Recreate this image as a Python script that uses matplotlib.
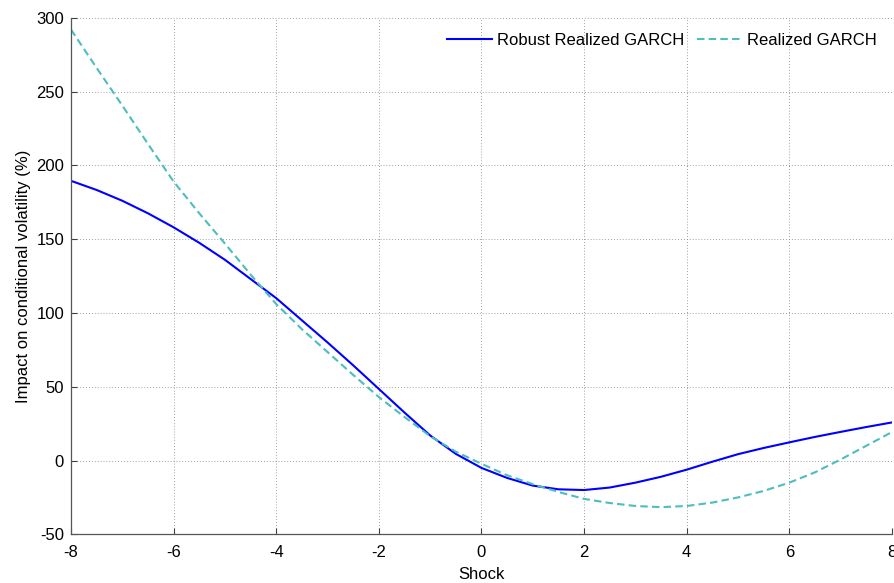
import matplotlib
matplotlib.use('Agg')
from matplotlib import pyplot as plt

plt.rcParams['font.family'] = ['Liberation Sans', 'DejaVu Sans']
plt.rcParams['axes.unicode_minus'] = False

shock = [-8, -7.5, -7, -6.5, -6, -5.5, -5, -4.5, -4, -3.5, -3, -2.5, -2, -1.5, -1, -0.5,
         0, 0.5, 1, 1.5, 2, 2.5, 3, 3.5, 4, 4.5, 5, 5.5, 6, 6.5, 7, 7.5, 8]
robust = [189.5, 183.3, 176, 167.5, 158, 147.5, 136, 123, 110, 95, 80, 64.5, 48.5, 32.5, 17, 4.5,
          -5, -11.8, -17, -19.5, -20, -18.3, -15, -11, -6.2, -0.8, 4.3, 8.5, 12.3, 16, 19.4, 22.7, 25.8]
realized = [292, 266, 240.5, 214.5, 189, 167.5, 147, 126, 106, 89, 73.5, 58, 43, 29.5, 16.5, 6,
            -2.2, -10, -16, -21.3, -26, -28.8, -30.8, -31.6, -30.8, -28.5, -25, -20.6, -15, -8, 0.7, 10, 19.3]

xticks = [-8, -6, -4, -2, 0, 2, 4, 6, 8]
yticks = [-50, 0, 50, 100, 150, 200, 250, 300]

fig = plt.figure(figsize=(8.95, 5.83), dpi=100)
ax = fig.add_axes([0.0793, 0.0835, 0.9173, 0.8861])

ax.plot(shock, robust, color='#0000ff', lw=1.5, label='Robust Realized GARCH')
ax.plot(shock, realized, color='#4dbdbd', lw=1.5, ls=(0, (3.6, 2.0)), label='Realized GARCH')

ax.set_xlim(-8, 8)
ax.set_ylim(-50, 300)
ax.set_xticks(xticks)
ax.set_yticks(yticks)
ax.tick_params(direction='in', length=4, width=0.8, colors='#404040', labelcolor='black',
               labelsize=12, pad=5)
ax.tick_params(axis='x', pad=8)
ax.grid(True, ls=(0, (1, 2.5)), color='#808080', lw=0.6)

# matlab style: no box on top/right
for s in ['top', 'right']:
    ax.spines[s].set_visible(False)
for s in ['left', 'bottom']:
    ax.spines[s].set_color('#555555')
    ax.spines[s].set_linewidth(0.9)

ax.set_xlabel('Shock', fontsize=12, labelpad=5)
ax.set_ylabel('Impact on conditional volatility (%)', fontsize=12, labelpad=4)

ax.legend(loc='upper right', ncol=2, frameon=False, fontsize=12, handlelength=2.7,
          handletextpad=0.3, columnspacing=0.8, borderaxespad=0.5)

fig.savefig('out.png', dpi=100)
